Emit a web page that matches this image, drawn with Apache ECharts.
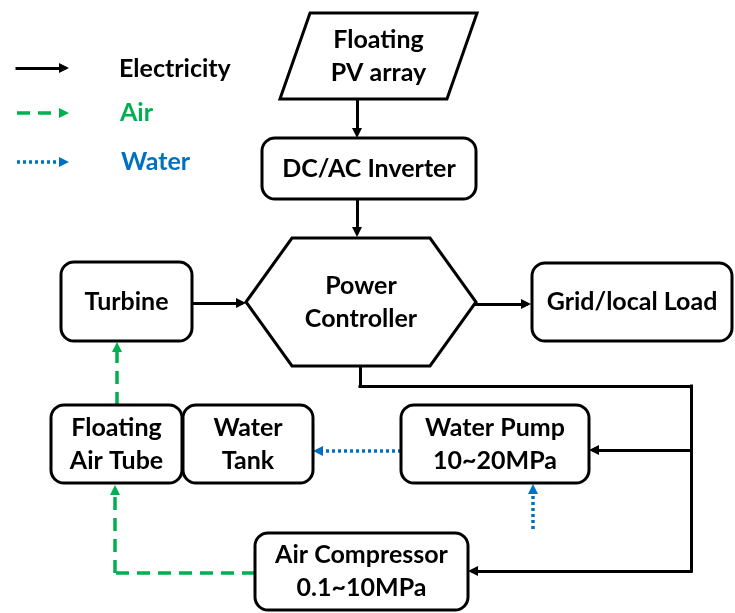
<!DOCTYPE html>
<html>
<head>
<meta charset="utf-8">
<script src="https://cdn.jsdelivr.net/npm/echarts@6/dist/echarts.min.js"></script>
<style>
    html, body { margin: 0; padding: 0; background: #fff; }
    #main { width: 735px; height: 613px; }
</style>
</head>
<body>
<div id="main"></div>
<script>
// boxes of the flow chart, in chart units (centre x, centre y, width, height)
var boxLabels = [
    'Floating\nPV array', 'DC/AC Inverter', 'Power\nController', 'Turbine',
    'Grid/local Load', 'Floating\nAir Tube', 'Water\nTank', 'Water Pump\n10~20MPa',
    'Air Compressor\n0.1~10MPa'
];
var boxShapes = ['parallelogram', 'rect', 'hexagon', 'rect', 'rect', 'rect', 'rect', 'rect', 'rect'];
var boxX = [378.5, 369, 361, 126.5, 632, 116.5, 248, 495, 361.5];
var boxY = [56, 168.5, 302, 301.5, 302, 444, 444, 444, 571.5];
var boxW = [167, 214, 230, 131, 200, 131, 130, 188, 213];
var boxH = [86, 61, 128, 79, 78, 78, 78, 78, 77];

// flows: each one is a polyline that ends at the arrow tip
var electricityFlows = [
    [[357, 99], [357, 138]],
    [[357, 199], [357, 237]],
    [[192, 303], [246, 303]],
    [[476, 304], [531, 304]],
    [[360, 366], [360, 386], [691, 386], [691, 571], [468, 571]],
    [[691, 450], [589, 450]],
    [[17, 68], [69, 68]]
];
var airFlows = [
    [[255, 573], [115, 573], [115, 485]],
    [[117, 405], [117, 342]],
    [[17, 113], [69, 113]]
];
var waterFlows = [
    [[401, 451], [313, 451]],
    [[533, 529], [533, 484]],
    [[17, 162], [69, 162]]
];

var legendNames = ['Electricity', 'Air', 'Water'];
var legendX = [119, 120, 121];
var legendY = [69, 113, 162];

var FONT = 'Lato';
var flowColors = ['#000000', '#00b050', '#0070c0'];

var chart = echarts.init(document.getElementById('main'));

// body segments have no arrow, the last segment carries the arrow head
function splitFlows(flows) {
    var body = [], head = [];
    flows.forEach(function (pts) {
        for (var i = 0; i < pts.length - 2; i++) {
            body.push({ coords: [pts[i], pts[i + 1]] });
        }
        var a = pts[pts.length - 2], b = pts[pts.length - 1];
        var dx = b[0] - a[0], dy = b[1] - a[1];
        var len = Math.sqrt(dx * dx + dy * dy);
        var k = 5 / len;
        head.push({ coords: [a, [b[0] - dx * k, b[1] - dy * k]] });
    });
    return { body: body, head: head };
}

function flowSeries(flows, color, type) {
    var parts = splitFlows(flows);
    var style = { color: color, width: type === 'solid' ? 3 : 3.5, type: type, opacity: 1, cap: type === 'solid' ? 'square' : 'butt' };
    return [
        {
            type: 'lines', coordinateSystem: 'cartesian2d', symbol: 'none',
            lineStyle: style, silent: true, animation: false, data: parts.body
        },
        {
            type: 'lines', coordinateSystem: 'cartesian2d',
            symbol: ['none', 'triangle'], symbolSize: [10, 10],
            lineStyle: style, silent: true, animation: false, data: parts.head
        }
    ];
}

function renderBox(params, api) {
    var i = params.dataIndex;
    var c = api.coord([api.value(0), api.value(1)]);
    var s = api.size([api.value(2), api.value(3)]);
    var w = s[0], h = s[1];
    var x0 = c[0] - w / 2, x1 = c[0] + w / 2, y0 = c[1] - h / 2, y1 = c[1] + h / 2;
    var line = { fill: '#fff', stroke: '#000', lineWidth: 3 };
    var body;
    if (boxShapes[i] === 'rect') {
        body = { type: 'rect', shape: { x: x0, y: y0, width: w, height: h, r: 13 }, style: line };
    } else if (boxShapes[i] === 'hexagon') {
        var d = w * 0.2;
        body = {
            type: 'polygon',
            shape: { points: [[x0, c[1]], [x0 + d, y0], [x1 - d, y0], [x1, c[1]], [x1 - d, y1], [x0 + d, y1]] },
            style: line
        };
    } else {
        var k = h * 0.175;
        body = {
            type: 'polygon',
            shape: { points: [[x0 + k, y0], [x1 + k, y0], [x1 - k, y1], [x0 - k, y1]] },
            style: line
        };
    }
    return {
        type: 'group',
        children: [body, {
            type: 'text',
            style: {
                text: boxLabels[i], x: c[0], y: c[1], align: 'center', verticalAlign: 'middle',
                fontFamily: FONT, fontWeight: 'bold', fontSize: 25, lineHeight: 33, fill: '#000'
            }
        }]
    };
}

function renderLegend(params, api) {
    var i = params.dataIndex;
    var c = api.coord([api.value(0), api.value(1)]);
    return {
        type: 'text',
        style: {
            text: legendNames[i], x: c[0], y: c[1], align: 'left', verticalAlign: 'middle',
            fontFamily: FONT, fontWeight: 'bold', fontSize: 25, fill: flowColors[i]
        }
    };
}

var option = {
    animation: false,
    backgroundColor: '#fff',
    grid: { left: 0, right: 0, top: 0, bottom: 0 },
    xAxis: { type: 'value', min: 0, max: 735, show: false },
    yAxis: { type: 'value', min: 0, max: 613, inverse: true, show: false },
    series: [].concat(
        flowSeries(electricityFlows, flowColors[0], 'solid'),
        flowSeries(airFlows, flowColors[1], [13, 8]),
        flowSeries(waterFlows, flowColors[2], [3, 3]),
        [{
            type: 'custom',
            renderItem: renderBox,
            silent: true,
            data: boxX.map(function (x, i) { return [x, boxY[i], boxW[i], boxH[i]]; })
        }, {
            type: 'custom',
            renderItem: renderLegend,
            silent: true,
            data: legendX.map(function (x, i) { return [x, legendY[i]]; })
        }]
    )
};

chart.setOption(option);
</script>
</body>
</html>
